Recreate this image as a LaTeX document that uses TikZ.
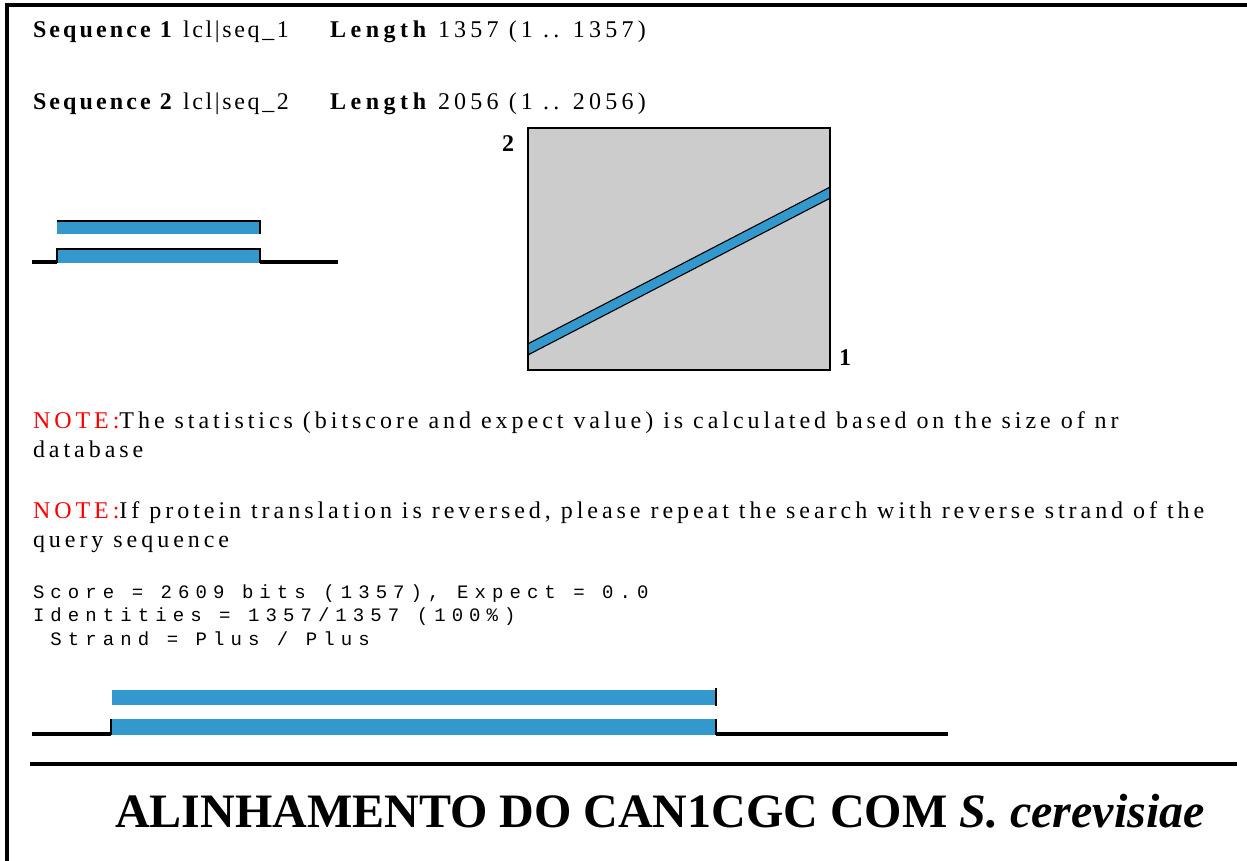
\documentclass[tikz,border=0pt]{standalone}
\usepackage{fontspec}
\setmainfont{Liberation Serif}
\newfontfamily\spacedserif[LetterSpace=16.5]{Liberation Serif}
\newfontfamily\seqserif[LetterSpace=13]{Liberation Serif}
\newfontfamily\idserif[LetterSpace=11]{Liberation Serif}
\newfontfamily\lenserif[LetterSpace=19]{Liberation Serif}
\newfontfamily\numserif[LetterSpace=17.5]{Liberation Serif}
\newfontfamily\spacedmono[LetterSpace=32]{Liberation Mono}
\definecolor{barblue}{RGB}{51,153,204}
\definecolor{plotgrey}{RGB}{204,204,204}
\definecolor{notered}{RGB}{255,0,0}
\tikzset{
  txt/.style={anchor=base west, inner sep=0pt, outer sep=0pt, font=\spacedserif\fontsize{24}{28}\selectfont},
  seqtxt/.style={anchor=base west, inner sep=0pt, outer sep=0pt, font=\seqserif\fontsize{24}{28}\selectfont\bfseries},
  idtxt/.style={anchor=base west, inner sep=0pt, outer sep=0pt, font=\idserif\fontsize{24}{28}\selectfont},
  lentxt/.style={anchor=base west, inner sep=0pt, outer sep=0pt, font=\lenserif\fontsize{24}{28}\selectfont\bfseries},
  numtxt/.style={anchor=base west, inner sep=0pt, outer sep=0pt, font=\numserif\fontsize{24}{28}\selectfont},
  monotxt/.style={anchor=base west, inner sep=0pt, outer sep=0pt, font=\spacedmono\fontsize{19}{22}\selectfont},
  axislabel/.style={anchor=base, inner sep=0pt, font=\fontsize{24}{28}\selectfont\bfseries},
  rule/.style={line width=4pt, black},
  blackedge/.style={line width=2.5pt, black},
}
\begin{document}
\begin{tikzpicture}[x=1pt, y=-1pt]
\useasboundingbox (0,0) rectangle (1247,861);
% frame
\draw[rule] (7,861) -- (7,5) -- (1247,5);
% header lines
\node[seqtxt] (s1a) at (33,38) {Sequence 1};
\node[idtxt] (s1b) at (183,38) {lcl|seq\_1};
\node[lentxt] (s1c) at (330,38) {Length};
\node[numtxt] (s1d) at (438,38) {1357 (1 .. 1357)};
\node[seqtxt] (s2a) at (33,110) {Sequence 2};
\node[idtxt] (s2b) at (183,110) {lcl|seq\_2};
\node[lentxt] (s2c) at (330,110) {Length};
\node[numtxt] (s2d) at (438,110) {2056 (1 .. 2056)};
% small overview graphic
\fill[barblue] (57,220) rectangle (260,234);
\draw[blackedge] (57,221) -- (260,221) -- (260,234);
\fill[barblue] (57,248) rectangle (260,263);
\draw[blackedge] (57,263) -- (57,249) -- (260,249) -- (260,263);
\draw[rule] (32,262) -- (57,262);
\draw[rule] (260,262) -- (338,262);
% dot plot
\fill[plotgrey] (528,128) rectangle (830,370);
\begin{scope}
\clip (528,128) rectangle (830,370);
\draw[line width=11pt, black] (520,353.5) -- (838,188.5);
\draw[line width=8.5pt, barblue] (520,353.5) -- (838,188.5);
\end{scope}
\draw[line width=1.5pt, black] (528,128) rectangle (830,370);
\node[axislabel] (lab2) at (508,152) {2};
\node[axislabel] (lab1) at (845,365) {1};
% notes
\node[txt] (n1) at (33,428) {\textcolor{notered}{NOTE:}The statistics (bitscore and expect value) is calculated based on the size of nr};
\node[txt] (n1b) at (33,457) {database};
\node[txt] (n2) at (33,518) {\textcolor{notered}{NOTE:}If protein translation is reversed, please repeat the search with reverse strand of the};
\node[txt] (n2b) at (33,547) {query sequence};
% score
\node[monotxt] (sc) at (33,598) {Score = 2609 bits (1357), Expect = 0.0};
\node[monotxt] (id) at (33,621) {Identities = 1357/1357 (100\%)};
\node[monotxt] (st) at (33,645) {\ Strand = Plus / Plus};
% alignment graphic
\fill[barblue] (112,690) rectangle (716,705);
\draw[blackedge] (716,688) -- (716,706);
\fill[barblue] (112,719) rectangle (716,735);
\draw[blackedge] (111,719) -- (111,735);
\draw[blackedge] (716,719) -- (716,735);
\draw[rule] (32,734) -- (111,734);
\draw[rule] (716,734) -- (948,734);
% bottom rule and title
\draw[rule] (30,764) -- (1237,764);
\node[anchor=base west, inner sep=0pt, font=\fontsize{48}{56}\selectfont\bfseries] (title) at (115,827) {ALINHAMENTO DO CAN1CGC COM \textit{S. cerevisiae}};
\end{tikzpicture}
\end{document}
